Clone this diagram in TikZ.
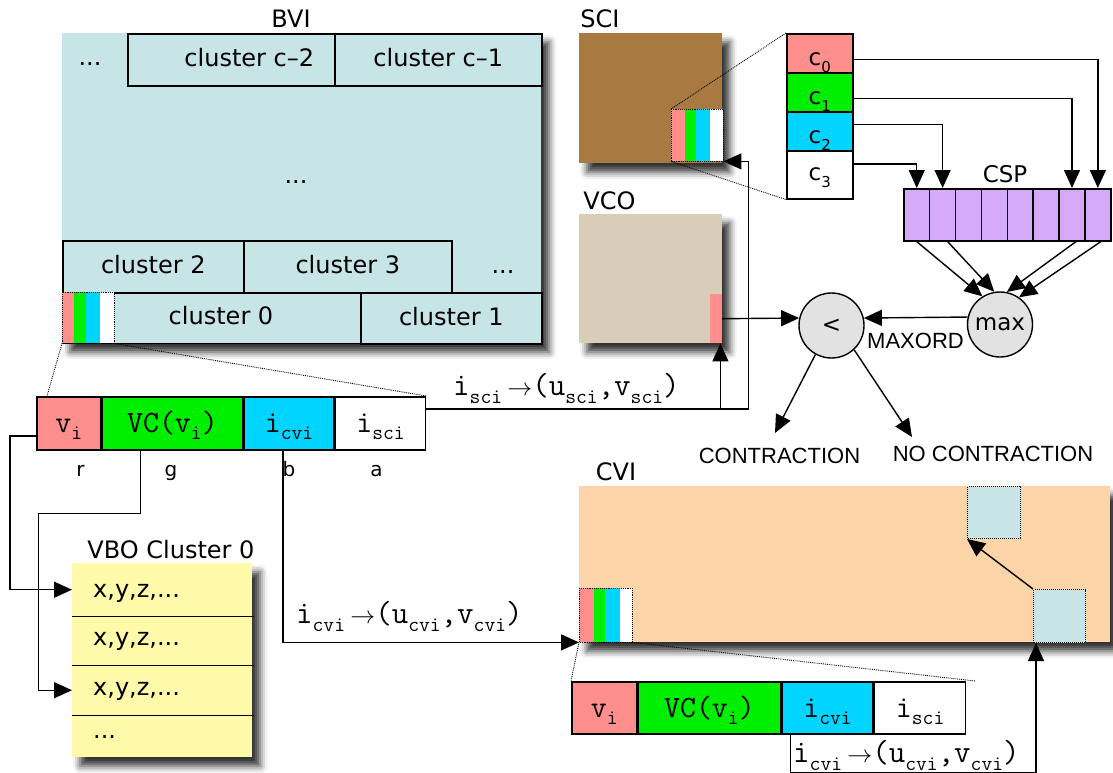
\documentclass[tikz,border=0pt]{standalone}
\usepackage{fontspec}
\setmainfont{DejaVu Sans}
\newfontfamily\helvf{Liberation Sans}
\usetikzlibrary{arrows.meta,shadows.blur,calc}

\definecolor{bviblue}{HTML}{C7E4E6}
\definecolor{pinkc}{HTML}{FF8F8C}
\definecolor{greenc}{HTML}{00EE00}
\definecolor{cyanc}{HTML}{00D4FF}
\definecolor{brownc}{HTML}{A87A42}
\definecolor{beigec}{HTML}{D9CDB7}
\definecolor{peachc}{HTML}{FDD5A8}
\definecolor{yellowc}{HTML}{FFFAAA}
\definecolor{lavc}{HTML}{D6AAFA}
\definecolor{greyc}{HTML}{E2E2E2}

% lowered subscripts
\newcommand\recsub[1]{\raisebox{-7pt}{\fontsize{21}{21}\selectfont #1}}
\newcommand\lowsub[1]{\raisebox{-8pt}{\fontsize{21}{21}\selectfont #1}}
\newcommand\csub[1]{\raisebox{-7pt}{\fontsize{15}{15}\selectfont #1}}
\newcommand\mapsarrow{\,$\rightarrow$}

% colour bands of a packed vertex record
\newcommand\bands[4]{%
  \fill[pinkc] (#1.north west) rectangle ([xshift=#2pt]#1.south west);
  \fill[greenc] ([xshift=#2pt]#1.north west) rectangle ([xshift=#3pt]#1.south west);
  \fill[cyanc] ([xshift=#3pt]#1.north west) rectangle ([xshift=#4pt]#1.south west);
  \fill[white] ([xshift=#4pt]#1.north west) rectangle (#1.south east);
  \draw[dotline] (#1.north west) rectangle (#1.south east);}

\tikzset{
  area/.style={inner sep=0pt, anchor=north west,
    blur shadow={shadow xshift=8pt, shadow yshift=-9pt, shadow blur radius=7pt, shadow opacity=80}},
  box/.style={draw, line width=1.6pt, inner sep=0pt, anchor=north west},
  clus/.style={font=\fontsize{24}{28}\selectfont, text height=16pt, text depth=2pt},
  title/.style={font=\fontsize{24}{28}\selectfont, inner sep=0pt, anchor=base},
  dotsl/.style={font=\fontsize{24}{28}\selectfont, inner sep=0pt, anchor=base},
  small/.style={font=\fontsize{20}{24}\selectfont, inner sep=0pt, anchor=base},
  helv/.style={font=\helvf\fontsize{22}{26}\selectfont, inner sep=0pt, anchor=base},
  rec/.style={box, minimum height=53pt, font=\ttfamily\fontsize{31}{33}\selectfont,
    text height=20pt, text depth=1pt},
  monolab/.style={font=\ttfamily\fontsize{32}{34}\selectfont, inner sep=0pt, anchor=base west},
  cbox/.style={box, minimum width=66pt, font=\fontsize{23}{26}\selectfont, text depth=0pt},
  cell/.style={box, fill=lavc, minimum width=25.875pt, minimum height=52pt},
  circ/.style={circle, draw, line width=1.4pt, fill=greyc, minimum size=65pt, inner sep=0pt,
    font=\fontsize{23}{26}\selectfont},
  stripnode/.style={inner sep=0pt, anchor=north west},
  sq/.style={inner sep=0pt, anchor=north west, fill=bviblue, draw, densely dotted, line width=1pt},
  vrow/.style={inner sep=0pt, inner xsep=21pt, anchor=north west, text width=138pt, align=left,
    font=\fontsize{24}{28}\selectfont, text depth=5pt},
  dotline/.style={densely dotted, line width=0.9pt},
  edge/.style={line width=1.6pt},
  arr/.style={line width=1.4pt, -{Triangle[length=18pt,width=16pt]}}
}

\begin{document}
\begin{tikzpicture}[x=1pt,y=-1pt]
\useasboundingbox (0,0) rectangle (1113,773);

% ---------- BVI ----------
\node[area, fill=bviblue, minimum width=479pt, minimum height=310pt] (bvi) at (62,33) {};
\node[title] (bvit) at (291,28) {BVI};
\node[box, clus, fill=bviblue, minimum width=207pt, minimum height=52pt] (cc2) at (127,33) {\hspace*{36pt}cluster c–2};
\node[box, clus, fill=bviblue, minimum width=207pt, minimum height=52pt] (cc1) at (334,33) {cluster c–1};
\node[dotsl] (d1) at (90,66) {...};
\node[dotsl] (d2) at (296,183) {...};
\node[box, clus, fill=bviblue, minimum width=181pt, minimum height=52pt] (cl2) at (62,240) {cluster 2};
\node[box, clus, fill=bviblue, minimum width=208pt, minimum height=52pt] (cl3) at (243,240) {cluster 3};
\node[dotsl] (d3) at (503,273) {...};
\node[inner sep=0pt, anchor=north west, clus, minimum width=246.4pt, minimum height=51pt] (cl0) at (113.6,292) {cluster 0\hspace*{32pt}};
\node[box, clus, fill=bviblue, minimum width=181pt, minimum height=51pt] (cl1) at (360,292) {cluster 1};
\node[stripnode, minimum width=51.6pt, minimum height=51pt] (bs) at (62,292) {};
\bands{bs}{12}{24}{38}
\draw[edge] (bs.south west) -- (cl0.south east);

% ---------- SCI ----------
\node[area, fill=brownc, minimum width=142.5pt, minimum height=130pt] (sci) at (579,33) {};
\node[title] (scit) at (600,28) {SCI};
\node[stripnode, minimum width=52pt, minimum height=52pt] (ss) at (671,109) {};
\bands{ss}{14}{25}{39}

% ---------- channel components ----------
\node[cbox, fill=pinkc, minimum height=39pt, text height=25pt] (k0) at (786,33) {c\csub{0}};
\node[cbox, fill=greenc, minimum height=39pt, text height=25pt] (k1) at (786,72) {c\csub{1}};
\node[cbox, fill=cyanc, minimum height=39pt, text height=25pt] (k2) at (786,111) {c\csub{2}};
\node[cbox, fill=white, minimum height=48pt, text height=12pt] (k3) at (786,150) {c\csub{3}};
\draw[dotline] (ss.north west) -- (k0.north west);
\draw[dotline] (ss.south west) -- (k3.south west);

% ---------- CSP ----------
\foreach \i in {1,...,8}
  \node[cell] (p\i) at ({903+25.875*(\i-1)},188) {};
\node[title, font=\fontsize{23}{26}\selectfont] (cspt) at (1005,182) {CSP};
\draw[arr] ([yshift=-6.5pt]k0.east) -| (p8.north);
\draw[arr] ([yshift=-6.5pt]k1.east) -| (p7.north);
\draw[arr] ([yshift=6.5pt]k2.east) -| (p2.north);
\draw[arr] ([yshift=11pt]k3.east) -| (p1.north);

% ---------- comparison ----------
\node[circ] (mx) at (1000,324.5) {max};
\node[circ] (lt) at (831.5,325.5) {<};
\draw[arr] (p1.south) -- (mx.122);
\draw[arr] ([xshift=5pt]p2.south) -- (mx.100);
\draw[arr] ([xshift=4pt]p7.south) -- (mx.78);
\draw[arr] ([xshift=3pt]p8.south) -- (mx.55);
\draw[arr] (mx.167) -- (lt.13);
\node[helv] (mxo) at (915.5,348) {MAXORD};

% ---------- VCO ----------
\node[area, fill=beigec, minimum width=142.5pt, minimum height=129pt] (vco) at (579,214) {};
\node[title] (vcot) at (609.5,209) {VCO};
\node[inner sep=0pt, anchor=north west, fill=pinkc, minimum width=12pt, minimum height=49pt] (vp) at (709.5,294) {};
\draw[arr] (vp.east) -- (lt.167);

% ---------- outcomes ----------
\node[helv] (con) at (779.5,463) {CONTRACTION};
\node[helv] (ncon) at (993,461) {NO CONTRACTION};
\coordinate (ctip) at (775,433);
\coordinate (nctip) at (912,437);
\draw[arr] (lt.-119) -- (ctip);
\draw[arr] (lt.-47) -- (nctip);

% ---------- vertex record ----------
\node[rec, fill=pinkc, minimum width=64pt] (rvi) at (36,396) {v\recsub{i}};
\node[rec, fill=greenc, minimum width=140pt] (rvc) at (rvi.north east) {VC(v\recsub{i})};
\node[rec, fill=cyanc, minimum width=90pt] (rcvi) at (rvc.north east) {i\recsub{cvi}};
\node[rec, fill=white, minimum width=90pt] (rsci) at (rcvi.north east) {i\recsub{sci}};
\node[small] (lr) at (80.5,476) {r};
\node[small] (lg) at (171,476) {g};
\node[small] (lb) at (289,476) {b};
\node[small] (la) at (376.5,476) {a};
\draw[dotline] (bs.south west) -- ([xshift=11pt]rvi.north west);
\draw[dotline] (bs.south east) -- (rsci.north east);

% i_sci lookup into VCO and SCI
\coordinate (isout) at ([yshift=14.5pt]rsci.east);
\coordinate (vcoin) at ([xshift=-1.5pt]vco.south east);
\draw[arr] (isout) -| (vcoin);
\draw[arr] (vcoin |- isout) -- ++(28,0) |- (ss.south east);
\node[monolab] (lsci) at (453,395) {i\lowsub{sci}\mapsarrow(u\lowsub{sci},v\lowsub{sci})};

% ---------- VBO ----------
\node[area, fill=yellowc, minimum width=180pt, minimum height=194pt] (vbo) at (72,563) {};
\node[title] (vbot) at (171,558) {VBO Cluster 0};
\node[vrow, minimum height=53pt, text height=20pt] (w1) at (72,563) {x,y,z,...};
\node[vrow, minimum height=49pt, text height=14pt] (w2) at (72,616) {x,y,z,...};
\node[vrow, minimum height=50pt, text height=15pt] (w3) at (72,665) {x,y,z,...};
\node[vrow, minimum height=42pt, text height=9pt] (w4) at (72,715) {...};
\draw[edge] (w1.south west) -- ([xshift=2pt]w1.south east);
\draw[edge] (w2.south west) -- ([xshift=2pt]w2.south east);
\draw[edge] (w3.south west) -- ([xshift=2pt]w3.south east);
\draw[arr] ([yshift=-12.5pt]rvi.west) -- ++(-26,0) |- (w1.west);
\draw[arr] ([xshift=-32pt]rvc.south) -- ++(0,63) -- ++(-102,0) |- (w3.west);

% ---------- CVI ----------
\node[area, fill=peachc, minimum width=531pt, minimum height=156pt] (cvi) at (579,486) {};
\node[title] (cvit) at (616,480) {CVI};
\node[stripnode, minimum width=53pt, minimum height=54pt] (cs) at (579,588) {};
\bands{cs}{15}{26}{41}
\node[sq, minimum width=53pt, minimum height=52pt] (sq1) at (967,486) {};
\node[sq, minimum width=51.5pt, minimum height=53pt] (sq2) at (1033,589) {};
\draw[arr] (sq2.north west) -- (sq1.south west);

\draw[arr] ([xshift=-6pt]rcvi.south) |- (cs.south west);
\node[monolab] (lcvi) at (296,623) {i\lowsub{cvi}\mapsarrow(u\lowsub{cvi},v\lowsub{cvi})};

% ---------- fetched record ----------
\node[rec, fill=pinkc, minimum width=65pt, minimum height=52pt] (qvi) at (571,681) {v\recsub{i}};
\node[rec, fill=greenc, minimum width=142pt, minimum height=52pt] (qvc) at (qvi.north east) {VC(v\recsub{i})};
\node[rec, fill=cyanc, minimum width=91pt, minimum height=52pt] (qcvi) at (qvc.north east) {i\recsub{cvi}};
\node[rec, fill=white, minimum width=91pt, minimum height=52pt] (qsci) at (qcvi.north east) {i\recsub{sci}};
\draw[dotline] (cs.south west) -- (qvi.north west);
\draw[dotline] (cs.south east) -- ([xshift=9pt]qsci.north east);
\draw[arr] ([xshift=9pt]qcvi.south west) -- ++(0,38) -| ([xshift=3pt]sq2.south west);
\node[monolab] (lcvi2) at (793,762) {i\lowsub{cvi}\mapsarrow(u\lowsub{cvi},v\lowsub{cvi})};
\end{tikzpicture}
\end{document}
